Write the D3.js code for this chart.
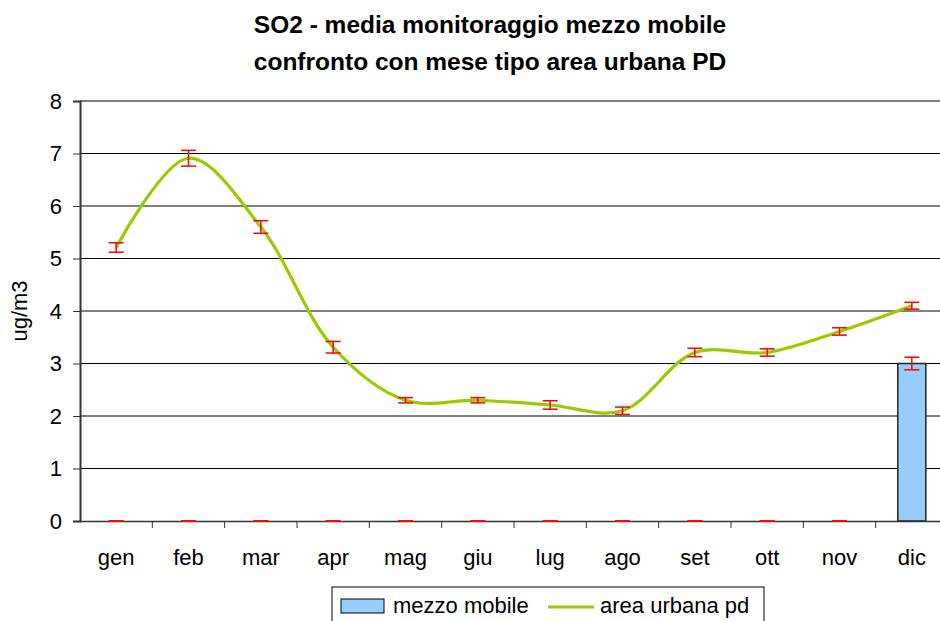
<!DOCTYPE html>
<html>
<head>
<meta charset="utf-8">
<script src="https://cdn.jsdelivr.net/npm/d3@7"></script>
<style>
  body { margin: 0; background: #fff; }
  svg { font-family: "Liberation Sans", Arial, sans-serif; }
</style>
</head>
<body>
<svg id="chart"></svg>
<script>
const months = ["gen", "feb", "mar", "apr", "mag", "giu", "lug", "ago", "set", "ott", "nov", "dic"];
const mezzoMobile = [0, 0, 0, 0, 0, 0, 0, 0, 0, 0, 0, 3.0];
const mezzoErr = [0, 0, 0, 0, 0, 0, 0, 0, 0, 0, 0, 0.12];
const areaUrbana = [5.21, 6.91, 5.60, 3.31, 2.30, 2.30, 2.21, 2.10, 3.21, 3.21, 3.61, 4.10];
const areaErr = [0.09, 0.15, 0.12, 0.11, 0.05, 0.05, 0.08, 0.07, 0.08, 0.07, 0.07, 0.065];
const yTicks = [0, 1, 2, 3, 4, 5, 6, 7, 8];

const width = 940, height = 621;
const margin = { left: 80, right: -8, top: 101, bottom: 100 };
const fontSize = 22;

const svg = d3.select("#chart").attr("width", width).attr("height", height);

const x = d3.scaleBand().domain(months).range([margin.left, width - margin.right]);
const y = d3.scaleLinear().domain([0, 8]).range([height - margin.bottom, margin.top]);

// title
svg.append("text")
    .attr("x", 490).attr("y", 33)
    .attr("text-anchor", "middle")
    .attr("font-size", 24.5).attr("font-weight", "bold")
    .text("SO2 - media monitoraggio mezzo mobile");
svg.append("text")
    .attr("x", 490).attr("y", 70)
    .attr("text-anchor", "middle")
    .attr("font-size", 24.5).attr("font-weight", "bold")
    .text("confronto con mese tipo area urbana PD");

// gridlines
svg.append("g")
    .selectAll("line")
    .data(yTicks.slice(1))
    .enter().append("line")
    .attr("x1", margin.left).attr("x2", width)
    .attr("y1", d => y(d)).attr("y2", d => y(d))
    .attr("stroke", "#000").attr("stroke-width", 1);

// y axis
const yAxis = svg.append("g")
    .attr("transform", `translate(${margin.left},0)`)
    .call(d3.axisLeft(y).tickValues(yTicks).tickSize(7).tickPadding(11));
yAxis.select(".domain").attr("stroke", "#333").attr("stroke-width", 2);
yAxis.selectAll(".tick line").attr("stroke", "#333");
yAxis.selectAll("text").attr("font-size", fontSize).attr("fill", "#000")
    .attr("font-family", "Liberation Sans, Arial, sans-serif");

svg.append("text")
    .attr("transform", `translate(27,${y(4)}) rotate(-90)`)
    .attr("text-anchor", "middle")
    .attr("font-size", fontSize)
    .text("ug/m3");

// bars
svg.append("g")
    .selectAll("rect")
    .data(months.map((m, i) => ({ m, v: mezzoMobile[i] })).filter(d => d.v > 0))
    .enter().append("rect")
    .attr("x", d => x(d.m) + x.bandwidth() / 2 - 14)
    .attr("width", 28)
    .attr("y", d => y(d.v))
    .attr("height", d => y(0) - y(d.v))
    .attr("fill", "#99CCFF")
    .attr("stroke", "#222").attr("stroke-width", 1.5);

// x axis
const xAxis = svg.append("g")
    .attr("transform", `translate(0,${y(0)})`)
    .call(d3.axisBottom(x).tickSize(0).tickPadding(28));
xAxis.select(".domain").attr("stroke", "#333").attr("stroke-width", 1.5);
xAxis.selectAll("text").attr("font-size", fontSize).attr("fill", "#000")
    .attr("font-family", "Liberation Sans, Arial, sans-serif");
svg.append("g")
    .selectAll("line")
    .data(months.slice(1))
    .enter().append("line")
    .attr("x1", d => x(d)).attr("x2", d => x(d))
    .attr("y1", y(0)).attr("y2", y(0) + 7)
    .attr("stroke", "#333");

// line
const cx = d => x(d) + x.bandwidth() / 2;
const line = d3.line()
    .x(d => cx(d.m))
    .y(d => y(d.v))
    .curve(d3.curveCatmullRom.alpha(0.5));
svg.append("path")
    .datum(months.map((m, i) => ({ m, v: areaUrbana[i] })))
    .attr("d", line)
    .attr("fill", "none")
    .attr("stroke", "#99CC00")
    .attr("stroke-width", 3.2);

// error bars
function errorBars(vals, errs) {
  const g = svg.append("g").attr("stroke", "#FF0000").attr("stroke-width", 1.5);
  months.forEach((m, i) => {
    const xc = cx(m), lo = y(vals[i] - errs[i]), hi = y(vals[i] + errs[i]);
    g.append("line").attr("x1", xc).attr("x2", xc).attr("y1", lo).attr("y2", hi);
    g.append("line").attr("x1", xc - 7.5).attr("x2", xc + 7.5).attr("y1", lo).attr("y2", lo);
    g.append("line").attr("x1", xc - 7.5).attr("x2", xc + 7.5).attr("y1", hi).attr("y2", hi);
  });
}
errorBars(mezzoMobile, mezzoErr);
errorBars(areaUrbana, areaErr);

// legend
const legend = svg.append("g").attr("transform", "translate(332,587)");
legend.append("rect")
    .attr("width", 432).attr("height", 40)
    .attr("fill", "#fff").attr("stroke", "#000");
legend.append("rect")
    .attr("x", 9).attr("y", 12).attr("width", 43).attr("height", 14)
    .attr("fill", "#99CCFF").attr("stroke", "#000");
legend.append("text")
    .attr("x", 61).attr("y", 26)
    .attr("font-size", fontSize)
    .text("mezzo mobile");
legend.append("line")
    .attr("x1", 216).attr("x2", 262).attr("y1", 20).attr("y2", 20)
    .attr("stroke", "#99CC00").attr("stroke-width", 3.2);
legend.append("text")
    .attr("x", 268).attr("y", 26)
    .attr("font-size", fontSize)
    .text("area urbana pd");
</script>
</body>
</html>
